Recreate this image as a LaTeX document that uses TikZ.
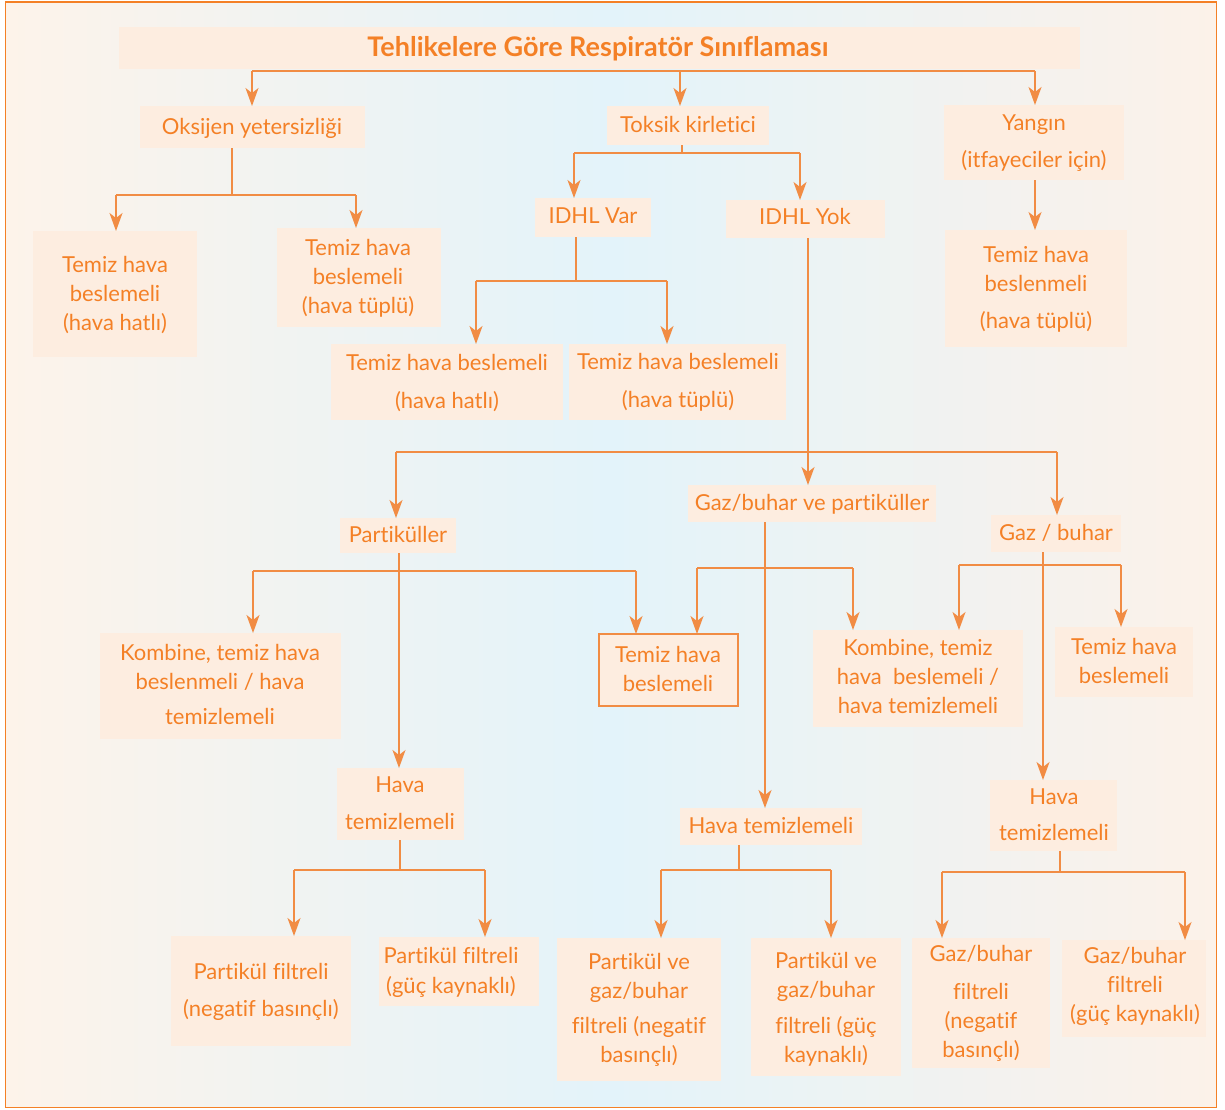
\documentclass[tikz,border=0pt]{standalone}
\usepackage{fontspec}
\setmainfont{Lato}[Ligatures=NoCommon]
\usetikzlibrary{arrows.meta,fit}
\definecolor{org}{RGB}{244,128,38}
\definecolor{lin}{RGB}{241,140,68}
\definecolor{boxf}{RGB}{253,237,224}
\definecolor{bgL}{RGB}{253,243,234}
\definecolor{bgM}{RGB}{227,243,250}
\definecolor{bgR}{RGB}{252,242,233}
\begin{document}
\begin{tikzpicture}[x=1pt,y=-1pt,
 box/.style={fill=boxf, draw=none, inner sep=0pt, outer sep=0pt},
 txt/.style={text=org, align=center, anchor=base, inner sep=0pt, font=\fontsize{22}{29}\selectfont},
 ttl/.style={text=org, anchor=base, inner sep=0pt, font=\bfseries\fontsize{27}{30}\selectfont},
 line/.style={draw=lin, line width=1.3pt},
 arr/.style={line, -{Stealth[length=18pt,width=13pt,inset=5pt]}},
]
\useasboundingbox (0,0) rectangle (1225,1109);
\shade[left color=bgL, right color=bgR, middle color=bgM] (5.5,2) rectangle (1216.5,1107.5);
\draw[org, line width=1.5pt] (5.5,2) rectangle (1216.5,1107.5);

% boxes
\node[box, fit={(119,27) (1080,69)}] (title) {};
\node[box, fit={(140,106) (365,148)}] (oks) {};
\node[box, fit={(607,106) (769,145)}] (tox) {};
\node[box, fit={(944,105) (1124,180)}] (yan) {};
\node[box, fit={(33,231) (197,357)}] (thl) {};
\node[box, fit={(277,228) (441,327)}] (ttp) {};
\node[box, fit={(535,198) (651,237)}] (var) {};
\node[box, fit={(726,200) (885,238)}] (yok) {};
\node[box, fit={(331,344) (563,420)}] (vh) {};
\node[box, fit={(569,344) (786,420)}] (vt) {};
\node[box, fit={(945,230) (1127,347)}] (yt) {};
\node[box, fit={(340,518) (456,553)}] (par) {};
\node[box, fit={(688,485) (936,522)}] (gbp) {};
\node[box, fit={(991,515) (1121,552)}] (gb) {};
\node[box, fit={(100,633) (341,739)}] (kl) {};
\node[box, draw=lin, line width=1.3pt, fit={(599,634) (738,706)}] (th) {};
\node[box, fit={(813,630) (1023,727)}] (km) {};
\node[box, fit={(1055,627) (1193,697)}] (tr) {};
\node[box, fit={(337,768) (464,840)}] (hl) {};
\node[box, fit={(680,808) (862,845)}] (hm) {};
\node[box, fit={(990,780) (1117,851)}] (hr) {};
\node[box, fit={(171,936) (351,1046)}] (pfn) {};
\node[box, fit={(379,937) (539,1006)}] (pfg) {};
\node[box, fit={(557,938) (721,1081)}] (pgn) {};
\node[box, fit={(751,938) (901,1076)}] (pgg) {};
\node[box, fit={(912,938) (1050,1068)}] (gn) {};
\node[box, fit={(1062,940) (1206,1037)}] (gg) {};

% texts (anchor base = baseline of the last line)
\node[ttl] (titleT) at (598,56) {Tehlikelere Göre Respiratör Sınıflaması};
\node[txt] (oksT) at (252,134) {Oksijen yetersizliği};
\node[txt] (toxT) at (688,132) {Toksik kirletici};
\node[txt] (yanT) at (1034,167) {Yangın\\[8pt](itfayeciler için)};
\node[txt] (thlT) at (115,330) {Temiz hava\\beslemeli\\(hava hatlı)};
\node[txt] (ttpT) at (358,313) {Temiz hava\\beslemeli\\(hava tüplü)};
\node[txt] (varT) at (593,223) {IDHL Var};
\node[txt] (yokT) at (805,224) {IDHL Yok};
\node[txt] (vhT) at (447,408) {Temiz hava beslemeli\\[9pt](hava hatlı)};
\node[txt] (vtT) at (678,407) {Temiz hava beslemeli\\[9pt](hava tüplü)};
\node[txt] (ytT) at (1036,328) {Temiz hava\\beslenmeli\\[8pt](hava tüplü)};
\node[txt] (parT) at (398,542) {Partiküller};
\node[txt] (gbpT) at (812,510) {Gaz/buhar ve partiküller};
\node[txt] (gbT) at (1056,540) {Gaz / buhar};
\node[txt] (klT) at (220,724) {Kombine, temiz hava\\beslenmeli / hava\\[6pt]temizlemeli};
\node[txt] (thT) at (668,691) {Temiz hava\\beslemeli};
\node[txt] (kmT) at (918,713) {Kombine, temiz\\hava~~beslemeli /\\hava temizlemeli};
\node[txt] (trT) at (1124,683) {Temiz hava\\beslemeli};
\node[txt] (hlT) at (400,829) {Hava\\[8pt]temizlemeli};
\node[txt] (hmT) at (771,833) {Hava temizlemeli};
\node[txt] (hrT) at (1054,840) {Hava\\[7pt]temizlemeli};
\node[txt] (pfnT) at (261,1016) {Partikül filtreli\\[8pt](negatif basınçlı)};
\node[txt] (pfgT) at (451,993) {Partikül filtreli\\[1pt](güç kaynaklı)};
\node[txt] (pgnT) at (639,1062) {Partikül ve\\gaz/buhar\\[6pt]filtreli (negatif\\basınçlı)};
\node[txt] (pggT) at (826,1062) {Partikül ve\\gaz/buhar\\[7pt]filtreli (güç\\kaynaklı)};
\node[txt] (gnT) at (981,1057) {Gaz/buhar\\[9pt]filtreli\\(negatif\\basınçlı)};
\node[txt] (ggT) at (1135,1021) {Gaz/buhar\\filtreli\\(güç kaynaklı)};

% junction coordinates
\coordinate (tA) at (252,71);  \coordinate (tB) at (680,71);  \coordinate (tC) at (1035,71);
\coordinate (jO) at (232,195); \coordinate (oL) at (116,195); \coordinate (oR) at (356,195);
\coordinate (jT) at (682,153); \coordinate (tL) at (574,153); \coordinate (tR) at (800,153);
\coordinate (jV) at (576,281); \coordinate (vL) at (476,281); \coordinate (vR) at (667,281);
\coordinate (yA) at (1035,0);
\coordinate (jY) at (808,452); \coordinate (yL) at (396,452); \coordinate (yR) at (1057,452);
\coordinate (pS) at (399,0);   \coordinate (pL) at (253,571); \coordinate (pR) at (636,571);
\coordinate (gS) at (765,0);   \coordinate (bL) at (697,568); \coordinate (bR) at (853,568);
\coordinate (rS) at (1043,0);  \coordinate (rL) at (959,565); \coordinate (rR) at (1121,565);
\coordinate (jHL) at (400,870); \coordinate (aL) at (294,870); \coordinate (aR) at (485,870);
\coordinate (jHM) at (739,870); \coordinate (mL) at (661,870); \coordinate (mR) at (831,870);
\coordinate (jHR) at (1060,872); \coordinate (hL) at (942,872); \coordinate (hR) at (1185,872);

% title
\draw[line] (tA) -- (tC);
\draw[arr] (tA) -- (tA |- oks.north);
\draw[arr] (tB) -- (tB |- tox.north);
\draw[arr] (tC) -- (tC |- yan.north);
% oksijen
\draw[line] (jO |- oks.south) -- (jO);
\draw[line] (oL) -- (oR);
\draw[arr] (oL) -- (oL |- thl.north);
\draw[arr] (oR) -- (oR |- ttp.north);
% toksik
\draw[line] (jT |- tox.south) -- (jT);
\draw[line] (tL) -- (tR);
\draw[arr] (tL) -- (tL |- var.north);
\draw[arr] (tR) -- (tR |- yok.north);
% IDHL var
\draw[line] (jV |- var.south) -- (jV);
\draw[line] (vL) -- (vR);
\draw[arr] (vL) -- (vL |- vh.north);
\draw[arr] (vR) -- (vR |- vt.north);
% yangin
\draw[arr] (yA |- yan.south) -- (yA |- yt.north);
% IDHL yok
\draw[line] (jY |- yok.south) -- (jY);
\draw[line] (yL) -- (yR);
\draw[arr] (yL) -- (yL |- par.north);
\draw[arr] (jY) -- (jY |- gbp.north);
\draw[arr] (yR) -- (yR |- gb.north);
% partikuller
\draw[arr] (pS |- par.south) -- (pS |- hl.north);
\draw[line] (pL) -- (pR);
\draw[arr] (pL) -- (pL |- kl.north);
\draw[arr] (pR) -- (pR |- th.north);
% gaz/buhar ve partikuller
\draw[arr] (gS |- gbp.south) -- (gS |- hm.north);
\draw[line] (bL) -- (bR);
\draw[arr] (bL) -- (bL |- th.north);
\draw[arr] (bR) -- (bR |- km.north);
% gaz / buhar
\draw[arr] (rS |- gb.south) -- (rS |- hr.north);
\draw[line] (rL) -- (rR);
\draw[arr] (rL) -- (rL |- km.north);
\draw[arr] (rR) -- (rR |- tr.north);
% hava temizlemeli (left)
\draw[line] (jHL |- hl.south) -- (jHL);
\draw[line] (aL) -- (aR);
\draw[arr] (aL) -- (aL |- pfn.north);
\draw[arr] (aR) -- (aR |- pfg.north);
% hava temizlemeli (middle)
\draw[line] (jHM |- hm.south) -- (jHM);
\draw[line] (mL) -- (mR);
\draw[arr] (mL) -- (mL |- pgn.north);
\draw[arr] (mR) -- (mR |- pgg.north);
% hava temizlemeli (right)
\draw[line] (jHR |- hr.south) -- (jHR);
\draw[line] (hL) -- (hR);
\draw[arr] (hL) -- (hL |- gn.north);
\draw[arr] (hR) -- (hR |- gg.north);
\end{tikzpicture}
\end{document}
